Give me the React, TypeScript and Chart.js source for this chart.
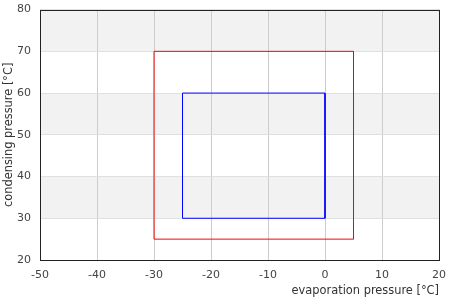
import React, { useEffect, useRef } from "react";
import { Chart, registerables } from "chart.js";

Chart.register(...registerables);

const redX = [-30, 5, 5, -30, -30];
const redY = [70, 70, 25, 25, 70];
const blueX = [-25, 0, 0, -25, -25];
const blueY = [60, 60, 30, 30, 60];
const bands = [[30, 40], [50, 60], [70, 80]];

const xMin = -50, xMax = 20, yMin = 20, yMax = 80;

const bandPlugin = {
  id: "bands",
  beforeDraw(chart: any) {
    const { ctx, chartArea, scales } = chart;
    ctx.save();
    ctx.fillStyle = "#f2f2f2";
    for (const [a, b] of bands) {
      const y1 = scales.y.getPixelForValue(b);
      const y2 = scales.y.getPixelForValue(a);
      ctx.fillRect(chartArea.left, y1, chartArea.right - chartArea.left, y2 - y1);
    }
    ctx.restore();
  },
  afterDraw(chart: any) {
    const { ctx, chartArea } = chart;
    ctx.save();
    ctx.strokeStyle = "#222";
    ctx.lineWidth = 1;
    ctx.strokeRect(
      Math.round(chartArea.left) + 0.5,
      Math.round(chartArea.top) + 0.5,
      Math.round(chartArea.right - chartArea.left),
      Math.round(chartArea.bottom - chartArea.top)
    );
    ctx.restore();
  },
};

export default function App() {
  const ref = useRef<HTMLCanvasElement>(null);
  useEffect(() => {
    const font = { family: "DejaVu Sans", size: 11 };
    const tfont = { family: "DejaVu Sans", size: 11.4 };
    const chart = new Chart(ref.current!, {
      type: "scatter",
      data: {
        datasets: [
          {
            data: redX.map((x, i) => ({ x, y: redY[i] })),
            showLine: true,
            borderColor: "#ff0000",
            borderWidth: 1,
            pointRadius: 0,
            fill: false,
          },
          {
            data: blueX.map((x, i) => ({ x, y: blueY[i] })),
            showLine: true,
            borderColor: "#0000ff",
            borderWidth: 1,
            pointRadius: 0,
            fill: false,
          },
        ],
      },
      options: {
        animation: false,
        responsive: false,
        layout: { autoPadding: false, padding: { top: 4.4, right: 6, left: 0, bottom: 0 } },
        plugins: { legend: { display: false }, tooltip: { enabled: false } },
        scales: {
          x: {
            type: "linear",
            min: xMin,
            max: xMax,
            afterFit: (s: any) => { s.height = 40; },
            ticks: { stepSize: 10, color: "#444", font, padding: 9 },
            grid: { color: "#cccccc", drawTicks: false },
            border: { display: false },
            title: {
              display: true,
              text: "evaporation pressure [°C]",
              align: "end",
              color: "#333",
              font: tfont,
              padding: { top: 0, bottom: 2 },
            },
          },
          y: {
            type: "linear",
            min: yMin,
            max: yMax,
            afterFit: (s: any) => { s.width = 40; },
            ticks: { stepSize: 10, color: "#444", font, padding: 9 },
            grid: { color: "#e0e0e0", drawTicks: false },
            border: { display: false },
            title: {
              display: true,
              text: "condensing pressure [°C]",
              color: "#333",
              font: tfont,
              padding: { top: 2, bottom: 0 },
            },
          },
        },
      },
      plugins: [bandPlugin],
    });
    return () => chart.destroy();
  }, []);
  return (
    <div style={{ position: "absolute", left: 0, top: 0, width: 450, height: 300, overflow: "hidden" }}>
      <canvas
        ref={ref}
        width={455}
        height={306}
        style={{ position: "absolute", left: 0, top: -6, display: "block" }}
      />
    </div>
  );
}
